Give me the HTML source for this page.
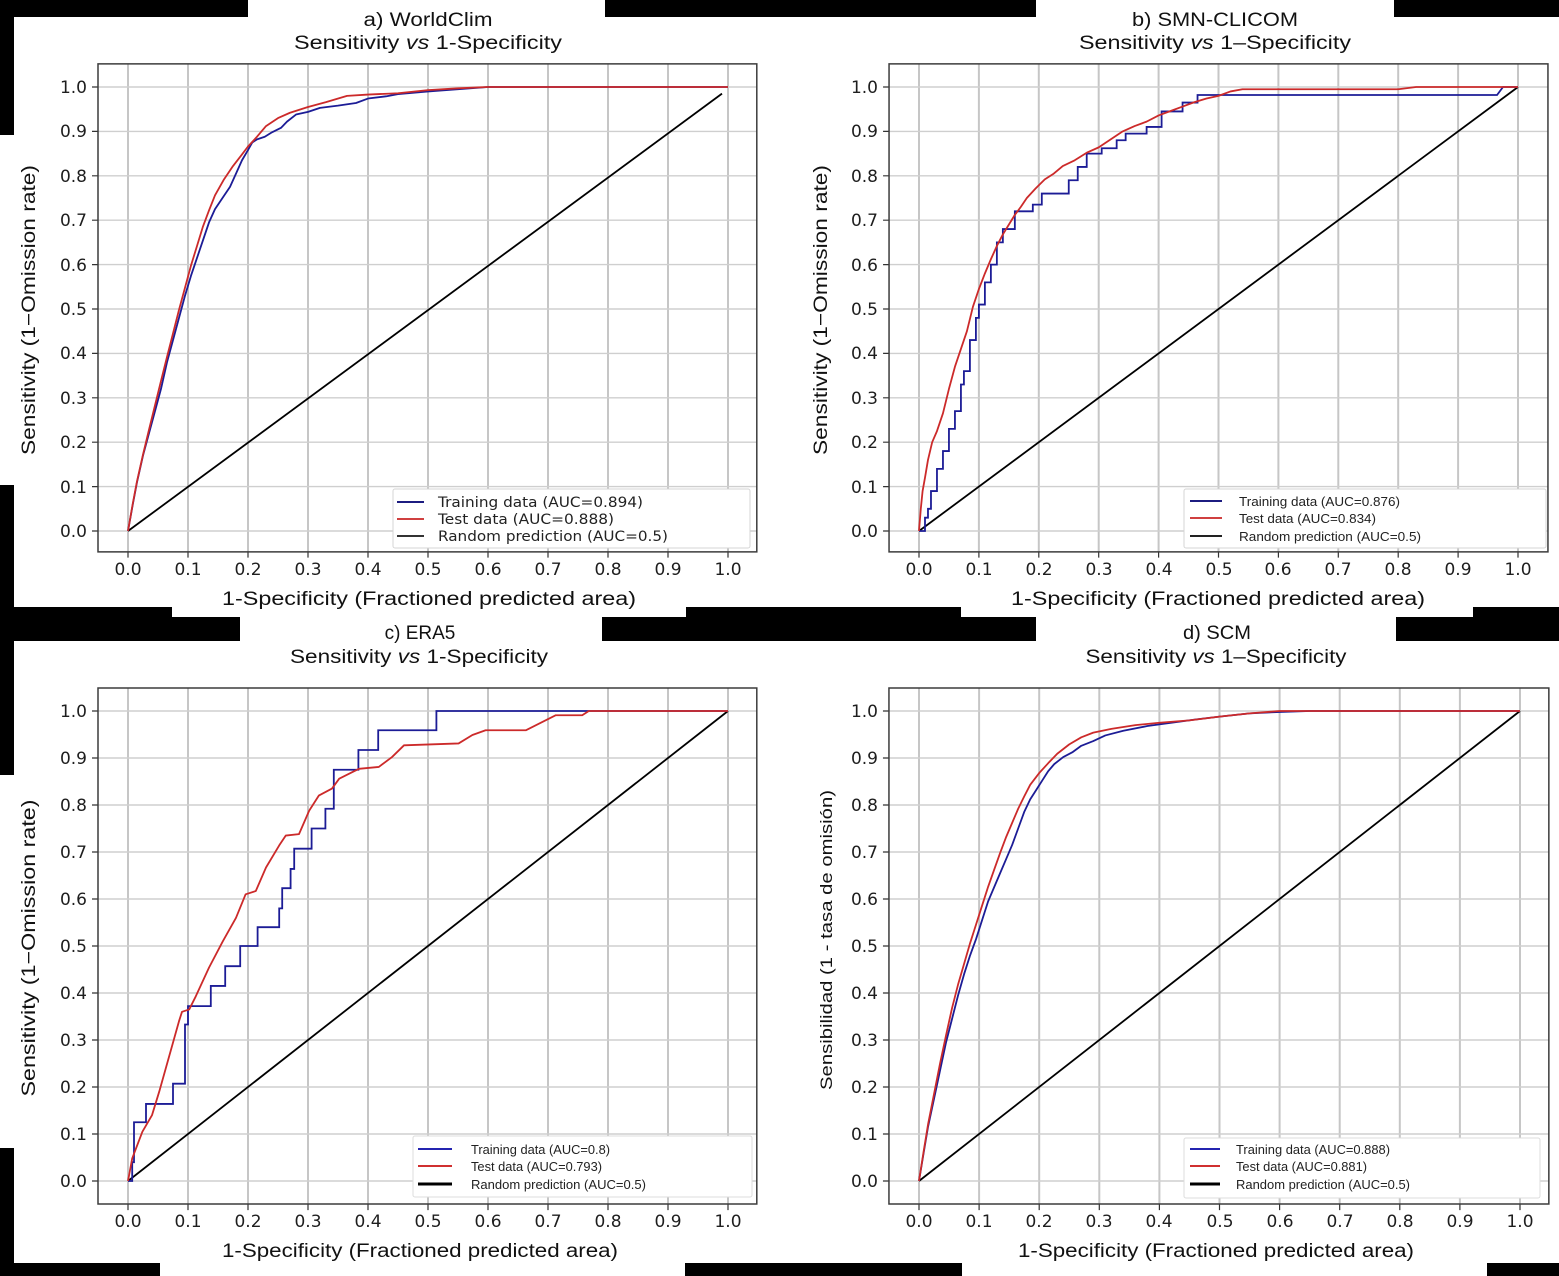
<!DOCTYPE html>
<html><head><meta charset="utf-8"><style>
html,body{margin:0;padding:0;background:#fff;overflow:hidden}
svg{display:block}
.tk{font-family:"DejaVu Sans","Liberation Sans",sans-serif;font-size:17px;fill:#1e1e1e}
.ti{font-family:"Liberation Sans",sans-serif;font-size:19px;fill:#111}
.lb{font-family:"Liberation Sans",sans-serif;font-size:19px;fill:#111}
.lga{font-family:"DejaVu Sans","Liberation Sans",sans-serif;font-size:14px;fill:#222}
.lgb{font-family:"Liberation Sans",sans-serif;font-size:13px;fill:#222}
</style></head><body>
<svg width="1559" height="1276" viewBox="0 0 1559 1276" xmlns="http://www.w3.org/2000/svg">
<rect width="1559" height="1276" fill="#fff"/>
<g fill="#000">
<rect x="0" y="0" width="248" height="17"/>
<rect x="605" y="0" width="431" height="17"/>
<rect x="1394" y="0" width="165" height="17"/>
<rect x="0" y="0" width="14" height="135"/>
<rect x="0" y="485" width="14" height="290"/>
<rect x="0" y="1148" width="14" height="128"/>
<rect x="0" y="607" width="172" height="10"/>
<rect x="686" y="607" width="275" height="10"/>
<rect x="1473" y="607" width="86" height="10"/>
<rect x="0" y="617" width="240" height="24"/>
<rect x="602" y="617" width="434" height="24"/>
<rect x="1396" y="617" width="163" height="24"/>
<rect x="0" y="1263" width="160" height="13"/>
<rect x="685" y="1263" width="277" height="13"/>
<rect x="1487" y="1263" width="72" height="13"/>
</g>

<!-- ============ PANEL A ============ -->
<g transform="translate(128,531) scale(0.6,-0.444)">
<path d="M0,-47V1052M100,-47V1052M200,-47V1052M300,-47V1052M400,-47V1052M500,-47V1052M600,-47V1052M700,-47V1052M800,-47V1052M900,-47V1052M1000,-47V1052" fill="none" stroke="#c6c6c6" stroke-width="2" vector-effect="non-scaling-stroke"/>
<path d="M-50,0H1048M-50,100H1048M-50,200H1048M-50,300H1048M-50,400H1048M-50,500H1048M-50,600H1048M-50,700H1048M-50,800H1048M-50,900H1048M-50,1000H1048" fill="none" stroke="#cfcfcf" stroke-width="1.4" vector-effect="non-scaling-stroke"/>
<path d="M0,-47v-13M100,-47v-13M200,-47v-13M300,-47v-13M400,-47v-13M500,-47v-13M600,-47v-13M700,-47v-13M800,-47v-13M900,-47v-13M1000,-47v-13M-50,0h-10M-50,100h-10M-50,200h-10M-50,300h-10M-50,400h-10M-50,500h-10M-50,600h-10M-50,700h-10M-50,800h-10M-50,900h-10M-50,1000h-10" fill="none" stroke="#333" stroke-width="1.2" vector-effect="non-scaling-stroke"/>
<polyline points="0,0 990,985" fill="none" stroke="#000" stroke-width="1.8" vector-effect="non-scaling-stroke"/>
<polyline points="0,0 8,60 15,110 25,170 35,220 45,270 55,320 65,380 75,430 85,480 95,530 105,575 115,615 125,655 135,695 145,725 160,755 170,775 180,805 190,835 200,858 207,875 215,882 228,888 240,898 255,908 265,922 280,938 300,944 320,953 350,958 380,964 400,974 430,979 450,984 500,990 550,995 600,1000 1000,1000" fill="none" stroke="#1c1c96" stroke-width="1.8" stroke-linejoin="round" vector-effect="non-scaling-stroke"/>
<polyline points="0,0 8,62 15,112 25,172 35,228 45,283 55,338 65,392 75,445 85,498 95,548 105,598 115,642 125,686 135,722 145,756 160,792 175,822 190,848 200,866 215,888 230,912 250,930 270,942 300,955 330,966 365,980 400,983 450,986 500,993 550,997 600,1000 1000,1000" fill="none" stroke="#cc2a2a" stroke-width="1.8" stroke-linejoin="round" vector-effect="non-scaling-stroke"/>
<rect x="-50" y="-47" width="1098" height="1099" fill="none" stroke="#3c3c3c" stroke-width="1.5" vector-effect="non-scaling-stroke"/>
</g>
<rect x="393" y="489" width="357" height="59" rx="2" fill="#fff" stroke="#d6d6d6" stroke-width="1"/>
<line x1="397" y1="502" x2="424" y2="502" stroke="#1c1c80" stroke-width="2"/>
<line x1="397" y1="519" x2="424" y2="519" stroke="#d04040" stroke-width="2"/>
<line x1="397" y1="536" x2="424" y2="536" stroke="#333" stroke-width="2"/>
<text class="lga" x="438" y="507" textLength="205" lengthAdjust="spacingAndGlyphs">Training data (AUC=0.894)</text>
<text class="lga" x="438" y="524" textLength="176" lengthAdjust="spacingAndGlyphs">Test data (AUC=0.888)</text>
<text class="lga" x="438" y="541" textLength="230" lengthAdjust="spacingAndGlyphs">Random prediction (AUC=0.5)</text>
<g class="tk" text-anchor="middle">
<text x="128" y="575">0.0</text><text x="188" y="575">0.1</text><text x="248" y="575">0.2</text><text x="308" y="575">0.3</text><text x="368" y="575">0.4</text><text x="428" y="575">0.5</text><text x="488" y="575">0.6</text><text x="548" y="575">0.7</text><text x="608" y="575">0.8</text><text x="668" y="575">0.9</text><text x="728" y="575">1.0</text>
</g>
<g class="tk" text-anchor="end">
<text x="87" y="537">0.0</text><text x="87" y="493">0.1</text><text x="87" y="448">0.2</text><text x="87" y="404">0.3</text><text x="87" y="359">0.4</text><text x="87" y="315">0.5</text><text x="87" y="271">0.6</text><text x="87" y="226">0.7</text><text x="87" y="182">0.8</text><text x="87" y="137">0.9</text><text x="87" y="93">1.0</text>
</g>
<text class="ti" x="428" y="26" text-anchor="middle" textLength="129" lengthAdjust="spacingAndGlyphs">a) WorldClim</text>
<text class="ti" x="428" y="49" text-anchor="middle" textLength="268" lengthAdjust="spacingAndGlyphs">Sensitivity <tspan font-style="italic">vs</tspan> 1-Specificity</text>
<text class="lb" x="429" y="605" text-anchor="middle" textLength="414" lengthAdjust="spacingAndGlyphs">1-Specificity (Fractioned predicted area)</text>
<text class="lb" transform="translate(35,310) rotate(-90)" text-anchor="middle" textLength="290" lengthAdjust="spacingAndGlyphs">Sensitivity (1−Omission rate)</text>

<!-- ============ PANEL B ============ -->
<g transform="translate(919,531) scale(0.599,-0.444)">
<path d="M0,-47V1052M100,-47V1052M200,-47V1052M300,-47V1052M400,-47V1052M500,-47V1052M600,-47V1052M700,-47V1052M800,-47V1052M900,-47V1052M1000,-47V1052" fill="none" stroke="#c6c6c6" stroke-width="2" vector-effect="non-scaling-stroke"/>
<path d="M-50,0H1050M-50,100H1050M-50,200H1050M-50,300H1050M-50,400H1050M-50,500H1050M-50,600H1050M-50,700H1050M-50,800H1050M-50,900H1050M-50,1000H1050" fill="none" stroke="#cfcfcf" stroke-width="1.4" vector-effect="non-scaling-stroke"/>
<path d="M0,-47v-13M100,-47v-13M200,-47v-13M300,-47v-13M400,-47v-13M500,-47v-13M600,-47v-13M700,-47v-13M800,-47v-13M900,-47v-13M1000,-47v-13M-50,0h-10M-50,100h-10M-50,200h-10M-50,300h-10M-50,400h-10M-50,500h-10M-50,600h-10M-50,700h-10M-50,800h-10M-50,900h-10M-50,1000h-10" fill="none" stroke="#333" stroke-width="1.2" vector-effect="non-scaling-stroke"/>
<polyline points="0,0 1000,1000" fill="none" stroke="#000" stroke-width="1.8" vector-effect="non-scaling-stroke"/>
<polyline points="0,0 10,0 10,30 15,30 15,50 20,50 20,90 30,90 30,140 40,140 40,180 50,180 50,230 60,230 60,270 70,270 70,330 75,330 75,360 85,360 85,430 95,430 95,480 100,480 100,510 110,510 110,560 120,560 120,600 130,600 130,650 140,650 140,680 160,680 160,720 190,720 190,735 205,735 205,760 250,760 250,790 265,790 265,820 280,820 280,850 305,850 305,862 330,862 330,880 345,880 345,895 380,895 380,910 405,910 405,945 440,945 440,965 465,965 465,982 965,982 975,1000 1000,1000" fill="none" stroke="#1c1c96" stroke-width="1.8" vector-effect="non-scaling-stroke"/>
<polyline points="0,0 3,50 6,90 10,120 15,160 22,200 30,225 40,265 50,320 60,370 70,410 80,450 90,505 100,545 110,580 120,612 130,642 140,668 150,690 160,712 170,730 180,750 195,772 210,792 225,805 240,822 260,835 280,852 300,864 320,882 340,900 360,912 380,922 400,936 420,946 440,956 460,966 480,974 500,980 520,990 540,995 800,995 830,1000 1000,1000" fill="none" stroke="#cc2a2a" stroke-width="1.8" stroke-linejoin="round" vector-effect="non-scaling-stroke"/>
<rect x="-50" y="-47" width="1100" height="1099" fill="none" stroke="#3c3c3c" stroke-width="1.5" vector-effect="non-scaling-stroke"/>
</g>
<rect x="1184" y="489" width="362" height="59" rx="2" fill="#fff" stroke="#d6d6d6" stroke-width="1"/>
<line x1="1190" y1="501" x2="1222" y2="501" stroke="#1c1c80" stroke-width="2"/>
<line x1="1190" y1="518" x2="1222" y2="518" stroke="#d04040" stroke-width="2"/>
<line x1="1190" y1="536" x2="1222" y2="536" stroke="#222" stroke-width="2"/>
<text class="lgb" x="1239" y="506" textLength="161" lengthAdjust="spacingAndGlyphs">Training data (AUC=0.876)</text>
<text class="lgb" x="1239" y="523" textLength="137" lengthAdjust="spacingAndGlyphs">Test data (AUC=0.834)</text>
<text class="lgb" x="1239" y="541" textLength="182" lengthAdjust="spacingAndGlyphs">Random prediction (AUC=0.5)</text>
<g class="tk" text-anchor="middle">
<text x="919" y="575">0.0</text><text x="979" y="575">0.1</text><text x="1039" y="575">0.2</text><text x="1099" y="575">0.3</text><text x="1159" y="575">0.4</text><text x="1219" y="575">0.5</text><text x="1278" y="575">0.6</text><text x="1338" y="575">0.7</text><text x="1398" y="575">0.8</text><text x="1458" y="575">0.9</text><text x="1518" y="575">1.0</text>
</g>
<g class="tk" text-anchor="end">
<text x="878" y="537">0.0</text><text x="878" y="493">0.1</text><text x="878" y="448">0.2</text><text x="878" y="404">0.3</text><text x="878" y="359">0.4</text><text x="878" y="315">0.5</text><text x="878" y="271">0.6</text><text x="878" y="226">0.7</text><text x="878" y="182">0.8</text><text x="878" y="137">0.9</text><text x="878" y="93">1.0</text>
</g>
<text class="ti" x="1215" y="26" text-anchor="middle" textLength="166" lengthAdjust="spacingAndGlyphs">b) SMN-CLICOM</text>
<text class="ti" x="1215" y="49" text-anchor="middle" textLength="272" lengthAdjust="spacingAndGlyphs">Sensitivity <tspan font-style="italic">vs</tspan> 1–Specificity</text>
<text class="lb" x="1218" y="605" text-anchor="middle" textLength="414" lengthAdjust="spacingAndGlyphs">1-Specificity (Fractioned predicted area)</text>
<text class="lb" transform="translate(827,310) rotate(-90)" text-anchor="middle" textLength="290" lengthAdjust="spacingAndGlyphs">Sensitivity (1−Omission rate)</text>

<!-- ============ PANEL C ============ -->
<g transform="translate(128,1181) scale(0.6,-0.47)">
<path d="M0,-49V1049M100,-49V1049M200,-49V1049M300,-49V1049M400,-49V1049M500,-49V1049M600,-49V1049M700,-49V1049M800,-49V1049M900,-49V1049M1000,-49V1049" fill="none" stroke="#c6c6c6" stroke-width="2" vector-effect="non-scaling-stroke"/>
<path d="M-50,0H1048M-50,100H1048M-50,200H1048M-50,300H1048M-50,400H1048M-50,500H1048M-50,600H1048M-50,700H1048M-50,800H1048M-50,900H1048M-50,1000H1048" fill="none" stroke="#cfcfcf" stroke-width="1.4" vector-effect="non-scaling-stroke"/>
<path d="M0,-49v-13M100,-49v-13M200,-49v-13M300,-49v-13M400,-49v-13M500,-49v-13M600,-49v-13M700,-49v-13M800,-49v-13M900,-49v-13M1000,-49v-13M-50,0h-10M-50,100h-10M-50,200h-10M-50,300h-10M-50,400h-10M-50,500h-10M-50,600h-10M-50,700h-10M-50,800h-10M-50,900h-10M-50,1000h-10" fill="none" stroke="#333" stroke-width="1.2" vector-effect="non-scaling-stroke"/>
<polyline points="0,0 1000,1000" fill="none" stroke="#000" stroke-width="1.8" vector-effect="non-scaling-stroke"/>
<polyline points="0,0 7,0 7,40 10,40 10,125 30,125 30,164 75,164 75,207 95,207 95,333 100,333 100,372 138,372 138,415 162,415 162,457 187,457 187,500 216,500 216,540 252,540 252,580 257,580 257,623 271,623 271,664 277,664 277,707 306,707 306,750 329,750 329,792 343,792 343,875 384,875 384,917 417,917 417,959 514,959 514,1000 1000,1000" fill="none" stroke="#1c1c96" stroke-width="1.8" vector-effect="non-scaling-stroke"/>
<polyline points="0,0 7,48 24,105 40,140 52,190 63,240 74,290 85,340 90,360 102,365 113,393 135,454 158,510 180,560 196,610 213,617 230,667 252,714 263,735 285,738 302,788 318,820 340,835 352,856 374,870 385,877 418,881 440,902 460,927 551,931 574,949 596,959 663,959 713,991 757,991 768,1000 1000,1000" fill="none" stroke="#cc2a2a" stroke-width="1.8" stroke-linejoin="round" vector-effect="non-scaling-stroke"/>
<rect x="-50" y="-49" width="1098" height="1098" fill="none" stroke="#3c3c3c" stroke-width="1.5" vector-effect="non-scaling-stroke"/>
</g>
<rect x="413" y="1136" width="339" height="61" rx="2" fill="#fff" stroke="#dcdcdc" stroke-width="1"/>
<line x1="418" y1="1149" x2="452" y2="1149" stroke="#2424b0" stroke-width="2"/>
<line x1="418" y1="1166" x2="452" y2="1166" stroke="#d03030" stroke-width="2"/>
<line x1="418" y1="1184" x2="452" y2="1184" stroke="#000" stroke-width="3"/>
<text class="lgb" x="471" y="1154" textLength="139" lengthAdjust="spacingAndGlyphs">Training data (AUC=0.8)</text>
<text class="lgb" x="471" y="1171" textLength="131" lengthAdjust="spacingAndGlyphs">Test data (AUC=0.793)</text>
<text class="lgb" x="471" y="1189" textLength="175" lengthAdjust="spacingAndGlyphs">Random prediction (AUC=0.5)</text>
<g class="tk" text-anchor="middle">
<text x="128" y="1227">0.0</text><text x="188" y="1227">0.1</text><text x="248" y="1227">0.2</text><text x="308" y="1227">0.3</text><text x="368" y="1227">0.4</text><text x="428" y="1227">0.5</text><text x="488" y="1227">0.6</text><text x="548" y="1227">0.7</text><text x="608" y="1227">0.8</text><text x="668" y="1227">0.9</text><text x="728" y="1227">1.0</text>
</g>
<g class="tk" text-anchor="end">
<text x="87" y="1187">0.0</text><text x="87" y="1140">0.1</text><text x="87" y="1093">0.2</text><text x="87" y="1046">0.3</text><text x="87" y="999">0.4</text><text x="87" y="952">0.5</text><text x="87" y="905">0.6</text><text x="87" y="858">0.7</text><text x="87" y="811">0.8</text><text x="87" y="764">0.9</text><text x="87" y="717">1.0</text>
</g>
<text class="ti" x="420" y="639" text-anchor="middle">c) ERA5</text>
<text class="ti" x="419" y="663" text-anchor="middle" textLength="258" lengthAdjust="spacingAndGlyphs">Sensitivity <tspan font-style="italic">vs</tspan> 1-Specificity</text>
<text class="lb" x="420" y="1257" text-anchor="middle" textLength="396" lengthAdjust="spacingAndGlyphs">1-Specificity (Fractioned predicted area)</text>
<text class="lb" transform="translate(35,948) rotate(-90)" text-anchor="middle" textLength="297" lengthAdjust="spacingAndGlyphs">Sensitivity (1−Omission rate)</text>

<!-- ============ PANEL D ============ -->
<g transform="translate(919,1181) scale(0.601,-0.47)">
<path d="M0,-49V1049M100,-49V1049M200,-49V1049M300,-49V1049M400,-49V1049M500,-49V1049M600,-49V1049M700,-49V1049M800,-49V1049M900,-49V1049M1000,-49V1049" fill="none" stroke="#c6c6c6" stroke-width="2" vector-effect="non-scaling-stroke"/>
<path d="M-50,0H1048M-50,100H1048M-50,200H1048M-50,300H1048M-50,400H1048M-50,500H1048M-50,600H1048M-50,700H1048M-50,800H1048M-50,900H1048M-50,1000H1048" fill="none" stroke="#cfcfcf" stroke-width="1.4" vector-effect="non-scaling-stroke"/>
<path d="M0,-49v-13M100,-49v-13M200,-49v-13M300,-49v-13M400,-49v-13M500,-49v-13M600,-49v-13M700,-49v-13M800,-49v-13M900,-49v-13M1000,-49v-13M-50,0h-10M-50,100h-10M-50,200h-10M-50,300h-10M-50,400h-10M-50,500h-10M-50,600h-10M-50,700h-10M-50,800h-10M-50,900h-10M-50,1000h-10" fill="none" stroke="#333" stroke-width="1.2" vector-effect="non-scaling-stroke"/>
<polyline points="0,0 1000,1000" fill="none" stroke="#000" stroke-width="1.8" vector-effect="non-scaling-stroke"/>
<polyline points="0,0 8,62 15,115 25,175 35,235 45,295 55,345 65,395 75,440 85,480 95,515 105,555 115,595 125,625 135,655 145,685 155,715 165,750 175,785 185,812 195,832 205,852 215,872 225,887 240,902 255,912 270,926 290,936 310,948 340,958 380,968 420,975 460,982 500,988 550,995 600,998 650,1000 1000,1000" fill="none" stroke="#1c1c96" stroke-width="1.8" stroke-linejoin="round" vector-effect="non-scaling-stroke"/>
<polyline points="0,0 8,65 15,120 25,185 35,250 45,310 55,368 65,418 75,462 85,506 95,546 105,586 115,626 125,662 135,698 145,732 155,762 165,792 175,818 185,843 200,868 215,889 230,909 250,929 270,944 290,954 320,962 360,970 400,975 450,980 500,988 550,995 600,1000 1000,1000" fill="none" stroke="#cc2a2a" stroke-width="1.8" stroke-linejoin="round" vector-effect="non-scaling-stroke"/>
<rect x="-50" y="-49" width="1098" height="1098" fill="none" stroke="#3c3c3c" stroke-width="1.5" vector-effect="non-scaling-stroke"/>
</g>
<rect x="1184" y="1138" width="356" height="60" rx="2" fill="#fff" stroke="#dcdcdc" stroke-width="1"/>
<line x1="1190" y1="1149" x2="1220" y2="1149" stroke="#2424b0" stroke-width="2"/>
<line x1="1190" y1="1166" x2="1220" y2="1166" stroke="#d03030" stroke-width="2"/>
<line x1="1190" y1="1184" x2="1220" y2="1184" stroke="#000" stroke-width="3"/>
<text class="lgb" x="1236" y="1154" textLength="154" lengthAdjust="spacingAndGlyphs">Training data (AUC=0.888)</text>
<text class="lgb" x="1236" y="1171" textLength="131" lengthAdjust="spacingAndGlyphs">Test data (AUC=0.881)</text>
<text class="lgb" x="1236" y="1189" textLength="174" lengthAdjust="spacingAndGlyphs">Random prediction (AUC=0.5)</text>
<g class="tk" text-anchor="middle">
<text x="919" y="1227">0.0</text><text x="979" y="1227">0.1</text><text x="1039" y="1227">0.2</text><text x="1099" y="1227">0.3</text><text x="1159" y="1227">0.4</text><text x="1220" y="1227">0.5</text><text x="1280" y="1227">0.6</text><text x="1340" y="1227">0.7</text><text x="1400" y="1227">0.8</text><text x="1460" y="1227">0.9</text><text x="1520" y="1227">1.0</text>
</g>
<g class="tk" text-anchor="end">
<text x="878" y="1187">0.0</text><text x="878" y="1140">0.1</text><text x="878" y="1093">0.2</text><text x="878" y="1046">0.3</text><text x="878" y="999">0.4</text><text x="878" y="952">0.5</text><text x="878" y="905">0.6</text><text x="878" y="858">0.7</text><text x="878" y="811">0.8</text><text x="878" y="764">0.9</text><text x="878" y="717">1.0</text>
</g>
<text class="ti" x="1217" y="639" text-anchor="middle" textLength="68" lengthAdjust="spacingAndGlyphs">d) SCM</text>
<text class="ti" x="1216" y="663" text-anchor="middle" textLength="261" lengthAdjust="spacingAndGlyphs">Sensitivity <tspan font-style="italic">vs</tspan> 1–Specificity</text>
<text class="lb" x="1216" y="1257" text-anchor="middle" textLength="396" lengthAdjust="spacingAndGlyphs">1-Specificity (Fractioned predicted area)</text>
<text class="lb" style="font-size:17px" transform="translate(832,940) rotate(-90)" text-anchor="middle" textLength="300" lengthAdjust="spacingAndGlyphs">Sensibilidad (1 - tasa de omisión)</text>
</svg>
</body></html>
